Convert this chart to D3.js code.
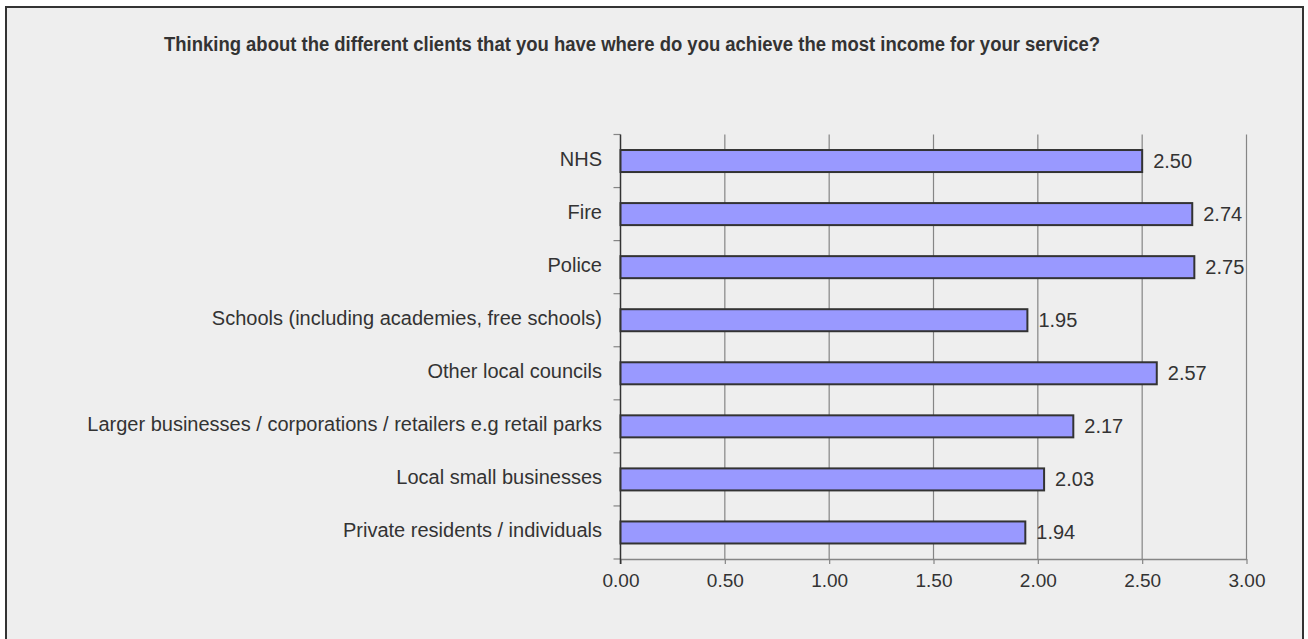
<!DOCTYPE html>
<html>
<head>
<meta charset="utf-8">
<script src="https://cdn.jsdelivr.net/npm/d3@7"></script>
<style>
  html, body { margin: 0; padding: 0; background: #ffffff; }
  svg { display: block; }
  text { font-family: "Liberation Sans", Arial, sans-serif; fill: #333333; }
</style>
</head>
<body>
<svg id="chart" width="1308" height="639"></svg>
<script>
// Survey question and answers
const title = "Thinking about the different clients that you have where do you achieve the most income for your service?";
const categories = [
  "NHS",
  "Fire",
  "Police",
  "Schools (including academies, free schools)",
  "Other local councils",
  "Larger businesses / corporations / retailers e.g retail parks",
  "Local small businesses",
  "Private residents / individuals"
];
const values = [2.50, 2.74, 2.75, 1.95, 2.57, 2.17, 2.03, 1.94];
const tickValues = [0, 0.5, 1.0, 1.5, 2.0, 2.5, 3.0];

const svg = d3.select("#chart");

// Panel background with frame
svg.append("rect")
  .attr("x", 6).attr("y", 7)
  .attr("width", 1297).attr("height", 660)
  .attr("fill", "#eeeeee")
  .attr("stroke", "#333333")
  .attr("stroke-width", 2);

// Title
svg.append("text")
  .attr("x", 164).attr("y", 51)
  .attr("textLength", 936)
  .attr("lengthAdjust", "spacingAndGlyphs")
  .style("font-size", "20px")
  .style("font-weight", "bold")
  .text(title);

const plot = { left: 620.5, right: 1246.5, top: 134.5, bottom: 559 };

const x = d3.scaleLinear().domain([0, 3]).range([plot.left, plot.right]);
const y = d3.scaleBand().domain(categories).range([plot.top, plot.bottom])
  .paddingInner(0.585).paddingOuter(0.2925);
const yOuter = d3.scaleBand().domain(categories).range([plot.top, plot.bottom]);

// Vertical gridlines
svg.append("g")
  .selectAll("line")
  .data(tickValues.filter(d => d > 0))
  .join("line")
  .attr("x1", d => x(d)).attr("x2", d => x(d))
  .attr("y1", plot.top).attr("y2", plot.bottom)
  .attr("stroke", "#858585")
  .attr("stroke-width", 1.2);

// Bottom axis
const xAxis = d3.axisBottom(x)
  .tickValues(tickValues)
  .tickFormat(d3.format(".2f"))
  .tickSizeInner(5)
  .tickSizeOuter(0)
  .tickPadding(10);
const gx = svg.append("g")
  .attr("transform", `translate(0,${plot.bottom})`)
  .call(xAxis);
gx.select(".domain").attr("stroke", "#858585").attr("stroke-width", 1.5);
gx.selectAll(".tick line").attr("stroke", "#858585").attr("stroke-width", 1.2);
gx.selectAll(".tick text")
  .attr("fill", "#333333")
  .style("font-family", "\"Liberation Sans\", Arial, sans-serif")
  .style("font-size", "19px");

// Left axis: separator ticks between categories
const sepTicks = categories.map(c => yOuter(c)).concat([plot.bottom]);
svg.append("g")
  .selectAll("line")
  .data(sepTicks)
  .join("line")
  .attr("x1", plot.left - 7).attr("x2", plot.left)
  .attr("y1", d => d).attr("y2", d => d)
  .attr("stroke", "#858585")
  .attr("stroke-width", 1.2);
svg.append("line")
  .attr("x1", plot.left).attr("x2", plot.left)
  .attr("y1", plot.top).attr("y2", plot.bottom + 5)
  .attr("stroke", "#333333")
  .attr("stroke-width", 1.5);

// Category labels
svg.append("g")
  .selectAll("text")
  .data(categories)
  .join("text")
  .attr("x", 602)
  .attr("y", d => yOuter(d) + yOuter.bandwidth() / 2 + 5)
  .attr("text-anchor", "end")
  .style("font-size", "20px")
  .text(d => d);

// Bars
const rows = categories.map((c, i) => ({ c, v: values[i] }));
svg.append("g")
  .selectAll("rect")
  .data(rows)
  .join("rect")
  .attr("x", x(0))
  .attr("y", d => y(d.c))
  .attr("width", d => x(d.v) - x(0))
  .attr("height", y.bandwidth())
  .attr("fill", "#9999ff")
  .attr("stroke", "#333333")
  .attr("stroke-width", 2);

// Value labels
svg.append("g")
  .selectAll("text")
  .data(rows)
  .join("text")
  .attr("x", d => x(d.v) + 11)
  .attr("y", d => y(d.c) + y.bandwidth() / 2 + 7)
  .style("font-size", "20px")
  .text(d => d3.format(".2f")(d.v));
</script>
</body>
</html>
